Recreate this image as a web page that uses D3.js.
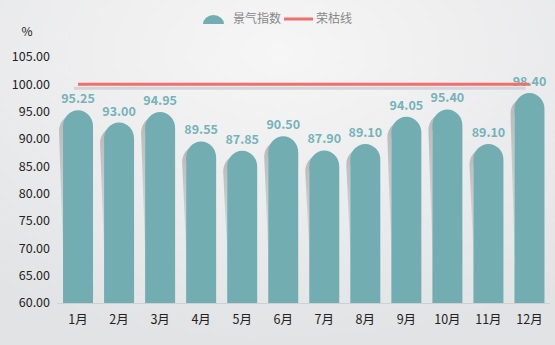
<!DOCTYPE html>
<html><head><meta charset="utf-8">
<script src="https://cdn.jsdelivr.net/npm/d3@7/dist/d3.min.js"></script>
<style>html,body{margin:0;padding:0;overflow:hidden;}svg{display:block;}</style>
</head><body><svg id="c" width="555" height="345"></svg>
<script>
const months = ["1月","2月","3月","4月","5月","6月","7月","8月","9月","10月","11月","12月"];
const values = [95.25,93.00,94.95,89.55,87.85,90.50,87.90,89.10,94.05,95.40,89.10,98.40];
const threshold = 100;
const yTicks = [60,65,70,75,80,85,90,95,100,105];
const legendNames = ["景气指数","荣枯线"];

const W=555,H=345;
const m={l:57.5,r:5,t:57,b:42};
const svg=d3.select("#c");
const font="'Noto Sans CJK SC','Microsoft YaHei',sans-serif";
const defs=svg.append("defs");
const bg=defs.append("radialGradient").attr("id","bg").attr("cx","50%").attr("cy","15%").attr("r","85%");
bg.append("stop").attr("offset","0%").attr("stop-color","#f6f6f7");
bg.append("stop").attr("offset","100%").attr("stop-color","#e2e3e4");
const sg=defs.append("linearGradient").attr("id","sh").attr("x1","0").attr("y1","0").attr("x2","0").attr("y2","1");
sg.append("stop").attr("offset","0%").attr("stop-color","#b9b9ba");
sg.append("stop").attr("offset","100%").attr("stop-color","#dcdddf");
svg.append("rect").attr("width",W).attr("height",H).attr("fill","url(#bg)");

const x=d3.scaleBand().domain(months).range([m.l,W-m.r]).paddingInner(0.27).paddingOuter(0.135);
const y=d3.scaleLinear().domain([60,105]).range([H-m.b,m.t]);
const bw=30;
const y0=y(60);

// y axis labels
svg.append("g").selectAll("text").data(yTicks).join("text")
  .attr("x",50).attr("y",d=>y(d)).attr("dy","0.35em").attr("text-anchor","end")
  .attr("font-family",font).attr("font-size",12.5).attr("fill","#222")
  .text(d=>d.toFixed(2));
svg.append("text").attr("x",27).attr("y",32).attr("dy","0.35em").attr("text-anchor","middle")
  .attr("font-family",font).attr("font-size",12).attr("fill","#222").text("%");

// x axis
svg.append("line").attr("x1",m.l).attr("x2",W-m.r).attr("y1",y0+0.5).attr("y2",y0+0.5).attr("stroke","#cfd0d2").attr("stroke-width",1);
svg.append("g").selectAll("text").data(months).join("text")
  .attr("x",d=>x(d)+x.bandwidth()/2).attr("y",y0+17).attr("dy","0.35em").attr("text-anchor","middle")
  .attr("font-family",font).attr("font-size",12.5).attr("fill","#222").text(d=>d);

const data=months.map((mm,i)=>({m:mm,v:values[i]}));
const r=15, ry=16;
function barPath(cx,top,bottom){
  const l=cx-bw/2, rt=cx+bw/2;
  return `M${l},${bottom}L${l},${top+ry}A${r},${ry} 0 0 1 ${rt},${top+ry}L${rt},${bottom}Z`;
}
function shadowPath(cx,top){
  const l=cx-bw/2, dx=4, dy=5;
  const t=top+dy;
  const endY=Math.max(y0-50, t+ry+30);
  return `M${l},${endY}L${l-dx},${t+ry}A${r},${ry} 0 0 1 ${l+r},${t}L${l+r},${t+ry}L${l},${t+ry}Z`;
}
// shadows
svg.append("g").selectAll("path").data(data).join("path")
  .attr("d",d=>shadowPath(x(d.m)+x.bandwidth()/2,y(d.v)))
  .attr("fill","url(#sh)");
// bars
svg.append("g").selectAll("path").data(data).join("path")
  .attr("d",d=>barPath(x(d.m)+x.bandwidth()/2,y(d.v),y0))
  .attr("fill","#72aeb1");
// labels
svg.append("g").selectAll("text").data(data).join("text")
  .attr("x",d=>x(d.m)+x.bandwidth()/2).attr("y",d=>y(d.v)-7).attr("text-anchor","middle")
  .attr("font-family",font).attr("font-size",12.5).attr("font-weight","bold").attr("fill","#74b3b9")
  .text(d=>d.v.toFixed(2));

// threshold line
const xs=x(months[0])+x.bandwidth()/2, xe=x(months[months.length-1])+x.bandwidth()/2;
svg.append("line").attr("x1",xs-4).attr("x2",xe-4).attr("y1",y(threshold)+4).attr("y2",y(threshold)+4)
  .attr("stroke","#d4d5d7").attr("stroke-width",3);
svg.append("line").attr("x1",xs).attr("x2",xe).attr("y1",y(threshold)).attr("y2",y(threshold))
  .attr("stroke","#f26d6d").attr("stroke-width",3);

// legend
const lg=svg.append("g");
lg.append("path").attr("d","M203,24A10.5,9 0 0 1 224,24Z").attr("fill","#72aeb1");
lg.append("text").attr("x",233).attr("y",19).attr("dy","0.35em").attr("font-family",font).attr("font-size",12).attr("fill","#888").text(legendNames[0]);
lg.append("line").attr("x1",284).attr("x2",313).attr("y1",19).attr("y2",19).attr("stroke","#f26d6d").attr("stroke-width",3);
lg.append("text").attr("x",316).attr("y",19).attr("dy","0.35em").attr("font-family",font).attr("font-size",12).attr("fill","#888").text(legendNames[1]);
</script></body></html>
